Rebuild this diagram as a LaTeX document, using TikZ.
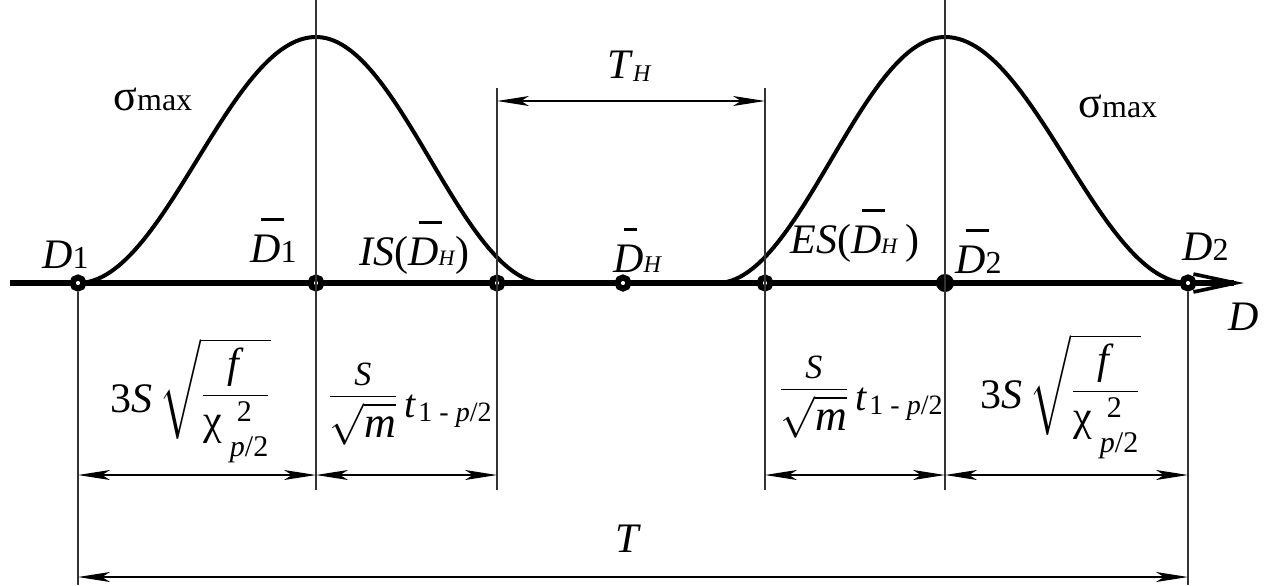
\documentclass[tikz,border=0pt]{standalone}
\usepackage{amsmath}
\usepackage{fontspec}
\setmainfont{Liberation Serif}
\usetikzlibrary{arrows.meta}
\newcommand\fs[1]{\fontsize{#1}{#1}\selectfont}
\newcommand\Dbar[1][0.55em]{\rlap{\hspace{0.25em}\rule[0.98em]{#1}{1.4pt}}\textit{D}}
\newcommand\rootfrac{3\textit{S}\,\raisebox{3pt}{$\sqrt{\dfrac{\text{\textit{f}}}{\smash[b]{\text{χ\hspace{4pt}\rlap{\hspace{3.5pt}\raisebox{6.5pt}{\fs{15}2}}\raisebox{-11pt}{\fs{15}\textit{p}/2}}}}}$}}
\newcommand\tdiv{\raisebox{5pt}{$\dfrac{\raisebox{-3.5pt}{\fs{17}\textit{S}}}{\sqrt{\text{\fs{22}\textit{m}}}}$}\hspace{3pt}\textit{t}\hspace{1pt}\raisebox{-2pt}{\fs{14}1 - \textit{p}/2}}
\begin{document}
\begin{tikzpicture}[x=0.5pt,y=-0.5pt,
			pt/.style={circle, draw=black, line width=3pt, fill=white, inner sep=0pt, minimum size=5.5pt},
			ptb/.style={circle, fill=black, inner sep=0pt, minimum size=9pt},
			dimline/.style={line width=0.6pt, {Stealth[length=16pt,width=5pt,inset=4pt]}-{Stealth[length=16pt,width=5pt,inset=4pt]}},
			thinline/.style={line width=0.6pt, black!80},
			bell/.style={line width=2pt},
			lbl/.style={inner sep=0pt, anchor=base west}]
			\useasboundingbox (0,0) rectangle (1268,585);
			%---------------- TRỤC D ----------------
			\coordinate (a0) at (10,283);
			\coordinate (a1) at (1244,283);
			\draw[line width=2.7pt, -{Straight Barb[length=21pt,width=9pt,line width=1.8pt]}] (a0)--(a1);
			%---------------- HAI ĐƯỜNG CONG ----------------
			\draw[bell] plot[domain=78:545, samples=90, smooth] (\x,{283-123*(1+cos(180*((\x-316)/(\x<316?238:229))))});
			\draw[bell] plot[domain=717:1188, samples=90, smooth] (\x,{283-123*(1+cos(180*((\x-945)/(\x<945?228:243))))});
			%---------------- CÁC ĐIỂM ----------------
			\node[pt] (d1) at (78,283) {};
			\node[pt] (dm1) at (316,283) {};
			\node[pt] (is) at (497,283) {};
			\node[pt] (dh) at (623,283) {};
			\node[pt] (es) at (765,283) {};
			\node[ptb] (dm2) at (945,283) {};
			\node[pt] (d2) at (1188,283) {};
			%---------------- ĐƯỜNG GIÓNG ----------------
			\coordinate (v0b) at (78,585);
			\coordinate (v1t) at (316,0);
			\coordinate (v1b) at (316,490);
			\coordinate (v2t) at (497,88);
			\coordinate (v2b) at (497,490);
			\coordinate (v3t) at (765,88);
			\coordinate (v3b) at (765,490);
			\coordinate (v4t) at (945,0);
			\coordinate (v4b) at (945,490);
			\coordinate (v5b) at (1188,585);
			\draw[thinline] (d1)--(v0b);
			\draw[thinline] (v1t)--(v1b);
			\draw[thinline] (v2t)--(v2b);
			\draw[thinline] (v3t)--(v3b);
			\draw[thinline] (v4t)--(v4b);
			\draw[thinline] (d2)--(v5b);
			%---------------- KÍCH THƯỚC ----------------
			\coordinate (th1) at (497,101);
			\coordinate (th2) at (765,101);
			\draw[dimline] (th1)--(th2);
			\coordinate (k0) at (78,475);
			\coordinate (k1) at (316,475);
			\coordinate (k2) at (497,475);
			\coordinate (k3) at (765,475);
			\coordinate (k4) at (945,475);
			\coordinate (k5) at (1188,475);
			\draw[dimline] (k0)--(k1);
			\draw[dimline] (k1)--(k2);
			\draw[dimline] (k3)--(k4);
			\draw[dimline] (k4)--(k5);
			\coordinate (t0) at (78,577);
			\coordinate (t1) at (1188,577);
			\draw[dimline] (t0)--(t1);
			%---------------- NHÃN ----------------
			\node[lbl] (lD1) at (42,268) {\fs{21}\textit{D}\fs{16}1};
			\node[lbl] (lDm1) at (250,262) {\fs{21}\Dbar\fs{16}1};
			\node[lbl] (lIS) at (359,265) {\fs{21}\textit{IS}(\Dbar\fs{11}\textit{H}\fs{21})};
			\node[lbl] (lDH) at (613,272) {\fs{21}\Dbar[0.3em]\fs{12}\textit{H}};
			\node[lbl] (lES) at (790,253) {\fs{21}\textit{ES}(\Dbar\fs{11}\textit{H}\fs{21}\,)};
			\node[lbl] (lDm2) at (955,273) {\fs{21}\Dbar\fs{16}2};
			\node[lbl] (lD2) at (1182,260) {\fs{21}\textit{D}\fs{16}2};
			\node[lbl] (lD) at (1228,330) {\fs{21}\textit{D}};
			\node[lbl] (smax1) at (113,110) {\fs{22}σ\fs{16}max};
			\node[lbl] (smax2) at (1078,117) {\fs{22}σ\fs{16}max};
			\node[lbl] (lTH) at (607,78) {\fs{21}\textit{T}\raisebox{-1.5pt}{\fs{12}\textit{H}}};
			\node[anchor=base, inner sep=0pt] (lT) at (628,552) {\fs{21}\textit{T}};
			\node[lbl] (f1) at (110,412) {\fs{21}\rootfrac};
			\node[lbl] (f2) at (327,417) {\fs{20}\tdiv};
			\node[lbl] (f3) at (778,410) {\fs{20}\tdiv};
			\node[lbl] (f4) at (980,408) {\fs{21}\rootfrac};
		\end{tikzpicture}
\end{document}
